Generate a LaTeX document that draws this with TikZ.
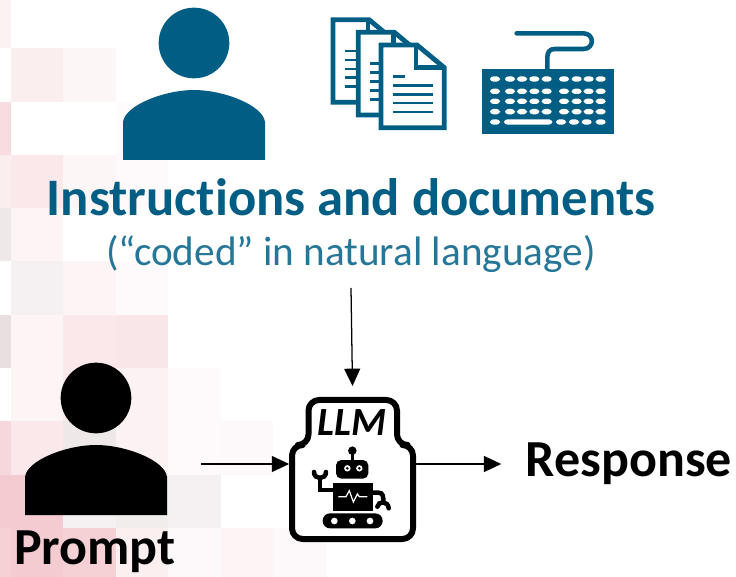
\documentclass[tikz,border=0pt]{standalone}
\usepackage{fontspec}
\setmainfont[Ligatures=NoCommon]{Carlito}
\usetikzlibrary{arrows.meta}

\tikzset{
  label/.style={inner sep=0pt,outer sep=0pt},
  conn/.style={line width=0.95pt,-{Triangle[length=13pt,width=12pt]}},
  keycap/.style={fill=white,rounded corners=2.5pt},
}

\begin{document}
\begin{tikzpicture}[x=0.75pt,y=-0.75pt]
% Colors define
\definecolor{myBlue}{HTML}{005E85}
\definecolor{myRose}{HTML}{E58C98}
\definecolor{myGrey}{HTML}{BFA3A6}

% Page size
\useasboundingbox (0,0) rectangle (736,577);

% Checkered background
\foreach \c/\r/\o in {0/0/12,0/2/30,0/3/15,0/4/30,0/6/30,0/8/35,0/9/45,0/10/40,
                      1/1/15,1/3/20,1/4/10,1/5/25,1/6/10,1/7/10,1/8/20,1/9/45,1/10/45,
                      2/1/8,2/3/8,2/5/10,2/6/20,2/7/20,2/8/25,2/9/35,2/10/40,
                      3/2/3,3/3/5,3/5/5,3/6/22,3/7/12,3/8/12,3/9/25,3/10/14,
                      4/7/4,4/8/4,4/9/14,4/10/6,5/8/6,5/10/10,6/10/6}
    \fill[myRose!\o] ({-42+52.5*\c},{-5+53.3*\r}) rectangle ++(52.5,53.3);
\foreach \c/\r/\o in {0/4/25,0/6/35,1/5/15,2/8/25,2/9/15,3/9/20,4/9/15}
    \fill[myGrey!\o] ({-42+52.5*\c},{-5+53.3*\r}) rectangle ++(52.5,53.3);

% Two persons
\foreach \sx/\sy/\col in {0/0/myBlue,-98/355/black}{
    \fill[\col] (194+\sx,43+\sy) circle[radius=26.5pt];
    \fill[\col] (123+\sx,160+\sy) -- (123+\sx,122+\sy)
        .. controls (125+\sx,105+\sy) and (165+\sx,90+\sy) .. (194+\sx,90+\sy)
        .. controls (223+\sx,90+\sy) and (263+\sx,105+\sy) .. (265+\sx,122+\sy)
        -- (265+\sx,160+\sy) -- cycle;
}

% Stack of documents
\begin{scope}[shift={(300,0)},x=0.25pt,y=-0.25pt]
\foreach \dx/\dy in {92/52,168/90,236/128}{
    \draw[myBlue,line width=3.6pt,fill=white,miter limit=4] (\dx+7,\dy+7) -- (\dx+115,\dy+7)
        -- (\dx+197,\dy+75) -- (\dx+197,\dy+255) -- (\dx+7,\dy+255) -- cycle;
    \draw[myBlue,line width=3.6pt] (\dx+112,\dy+7) -- (\dx+112,\dy+75) -- (\dx+197,\dy+75);
    \draw[myBlue,line width=1.8pt] (\dx+42,\dy+101) -- (\dx+80,\dy+101);
    \foreach \ly in {128,155,181,208}
        \draw[myBlue,line width=1.8pt] (\dx+42,\dy+\ly) -- (\dx+164,\dy+\ly);
}

% Keyboard
\draw[myBlue,line width=3.4pt,line cap=round] (742,210) -- (742,172)
    .. controls (742,155) and (750,147) .. (765,147) -- (850,147)
    .. controls (884,147) and (884,100) .. (850,100) -- (650,100);
\fill[myBlue] (547,206) rectangle (941,403);
\foreach \ky in {237,274,304,335}
    \foreach \kx in {585,630,666,703,740,792,830,866,902}
        \fill[keycap] (\kx-15,\ky-8) rectangle (\kx+15,\ky+8);
\foreach \kx in {585,783,822,860,902}
    \fill[keycap] (\kx-15,358) rectangle (\kx+15,374);
\fill[keycap] (612,358) rectangle (757,374);
\end{scope}

% Texts
\node[label,text=myBlue] (title) at (351,197) {\fontsize{39.5}{39.5}\selectfont\bfseries Instructions and documents};
\node[label,text=myBlue!85!white] (subtitle) at (351,254) {\fontsize{30.9}{30.9}\selectfont (“coded” in natural language)};
\node[label] (prompt) at (95,552) {\fontsize{39}{39}\selectfont\bfseries Prompt};
\node[label] (response) at (629,464) {\fontsize{39}{39}\selectfont\bfseries Response};

% LLM box
\node[label,minimum width=95pt,minimum height=117pt] (llm) at (352.5,464) {};
\draw[line width=4.5pt,line join=round,fill=white,rounded corners=8pt] (308.5,445) -- (308.5,400) -- (397,400)
    -- (397,445) -- (413,445) -- (413,539) -- (292,539) -- (292,445) -- cycle;
\node[label] (llmtext) at (352,423) {\fontsize{30}{30}\selectfont\bfseries\itshape LLM};

% Robot
\begin{scope}[shift={(270,380)},x=0.25pt,y=-0.25pt]
\fill (247,212) circle[radius=3.2pt];
\draw[line width=2.4pt] (247,212) -- (247,245);
\fill[rounded corners=4pt] (198,240) rectangle (295,296);
\foreach \ex in {232,268}{
    \fill[white] (\ex,265) circle[radius=2.4pt];
    \fill (\ex,265) circle[radius=1.1pt];
}
\fill (188,308) rectangle (308,392);
\draw[white,line width=0.9pt] (205,350) -- (228,350) -- (238,332) -- (250,366) -- (262,342) -- (268,350) -- (292,350);
% Arms with claws
\draw[line width=3.4pt] (188,330) -- (150,330) -- (150,290);
\draw[line width=3.4pt,line cap=round] (132,276) .. controls (132,300) and (168,300) .. (168,276);
\draw[line width=3.4pt] (308,338) -- (325,338) .. controls (340,338) and (340,350) .. (340,368);
\draw[line width=3.4pt,line cap=round] (322,380) .. controls (325,362) and (355,362) .. (356,385);
% Tracks
\fill[rounded corners=5.5pt] (158,400) rectangle (338,445);
\foreach \wx in {193,247,300}
    \fill[white] (\wx,423) circle[radius=2.5pt];
\end{scope}

% Connectors
\coordinate (docsout) at (351,288);
\coordinate (promptout) at (201,464);
\draw[conn] (docsout) -- (llm.north);
\draw[conn] (promptout) -- (llm.west);
\draw[conn,shorten >=18.5pt] (llm.east) -- (response.west);
\end{tikzpicture}
\end{document}
